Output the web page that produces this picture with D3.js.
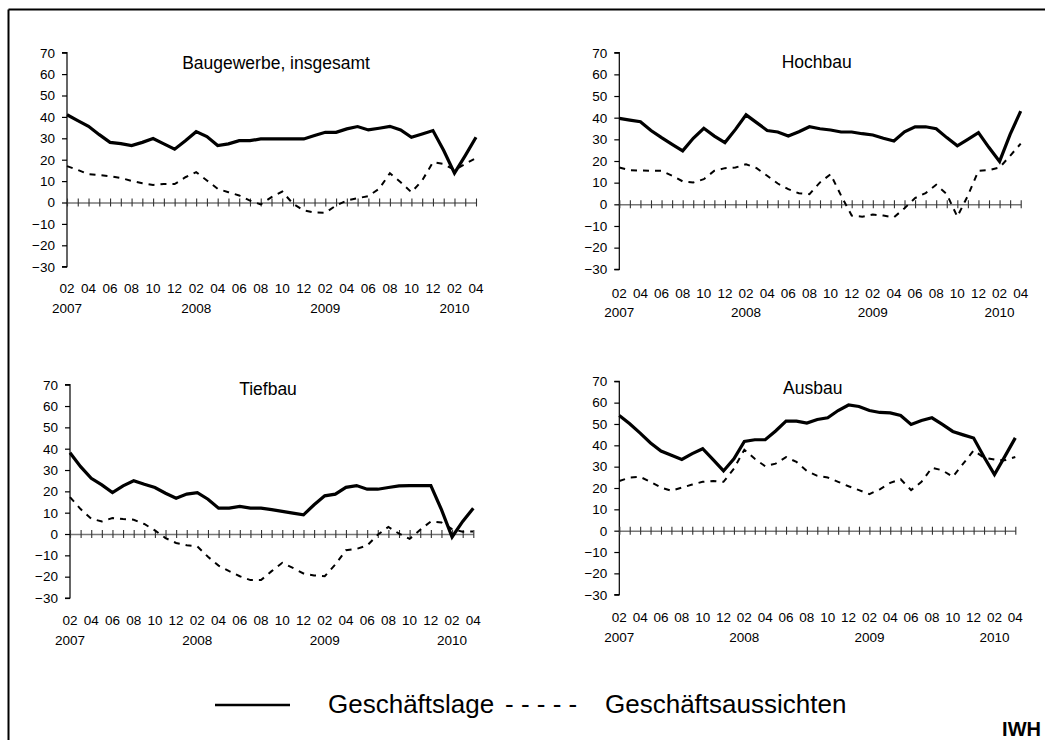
<!DOCTYPE html>
<html>
<head>
<meta charset="utf-8">
<script src="https://cdn.jsdelivr.net/npm/d3@7/dist/d3.min.js"></script>
<style>
  html, body { margin: 0; padding: 0; background: #fff; }
  svg { display: block; font-family: "Liberation Sans", Arial, sans-serif; }
</style>
</head>
<body>
<svg id="chart" width="1045" height="740"></svg>
<script>
// ---- categories (monthly, Feb 2007 .. Apr 2010) ----
const months = [
  "2007-02","2007-03","2007-04","2007-05","2007-06","2007-07","2007-08","2007-09","2007-10","2007-11","2007-12",
  "2008-01","2008-02","2008-03","2008-04","2008-05","2008-06","2008-07","2008-08","2008-09","2008-10","2008-11","2008-12",
  "2009-01","2009-02","2009-03","2009-04","2009-05","2009-06","2009-07","2009-08","2009-09","2009-10","2009-11","2009-12",
  "2010-01","2010-02","2010-03","2010-04"
];
const monthTickLabels = ["02","04","06","08","10","12","02","04","06","08","10","12","02","04","06","08","10","12","02","04"];
const yearTickLabels = ["2007","2008","2009","2010"];
const yTicks = [70,60,50,40,30,20,10,0,-10,-20,-30];
const panelTitles = ["Baugewerbe, insgesamt","Hochbau","Tiefbau","Ausbau"];
const seriesNames = ["Geschäftslage","Geschäftsaussichten"];

// ---- series values ----
const bauLage = [41,38.3,35.6,31.7,28.1,27.5,26.6,28.1,29.9,27.4,24.9,28.9,33.1,30.8,26.6,27.4,28.9,28.9,29.7,29.7,29.7,29.7,29.7,31.3,32.8,32.8,34.4,35.5,33.9,34.7,35.6,33.9,30.5,32,33.6,24.3,13.7,21.9,30.5];
const bauAus  = [17,15.2,13.2,12.8,12.3,11.5,10.1,9,8.2,8.6,8.6,11.8,14.2,10.3,6.4,4.8,3.3,0.9,-0.9,2.5,5.1,-0.6,-3.7,-4.7,-4.8,-1.4,0.9,2,3,6.4,13.7,9.5,4.8,10.3,18.8,18,15.2,18,20.8];
const hochLage = [39.7,38.9,38.1,34.1,30.8,27.7,24.7,30.5,35.1,31.5,28.5,34.6,41.3,37.7,34.1,33.4,31.5,33.5,35.8,34.9,34.3,33.4,33.4,32.6,32,30.5,29.2,33.5,35.8,35.8,34.9,30.8,27,30,33.1,26.2,19.8,32.3,43];
const hochAus  = [17,15.8,15.6,15.5,15.5,13.2,10.6,10.1,11.6,15.5,16.7,17,18.5,16.7,13.2,9.6,7,5.1,4.7,10.1,13.9,4,-5.2,-5.7,-4.7,-5.2,-6,-1.8,2.9,5.2,9,4.7,-5.7,4,15.5,15.8,17,22.4,28];
const tiefLage = [38.1,31.6,26.1,23,19.4,22.6,25,23.3,21.8,19.1,16.8,18.7,19.4,16.3,12.1,12.1,12.9,12.1,12.1,11.4,10.6,9.8,9,13.7,17.9,18.7,21.9,22.7,21,21,21.8,22.6,22.7,22.7,22.7,11.4,-1.4,5.9,12.1];
const tiefAus  = [17.3,11.7,7.2,5.9,7.5,7,6.7,4.7,1.7,-1.9,-4.2,-5.3,-5.8,-10.7,-14.8,-17.4,-19.8,-21.6,-21.6,-17.4,-13.5,-15.9,-18.5,-19.4,-19.8,-14.3,-7.6,-7,-5.4,-0.3,3.3,0.2,-2.3,2,5.9,5.4,2.3,1.1,1.2];
const ausLage = [54,50.1,45.7,41.1,37.3,35.3,33.4,36.1,38.4,33.3,28,33.7,41.8,42.6,42.6,46.7,51.3,51.3,50.4,52.1,52.9,56.3,58.9,58.2,56.3,55.4,55.2,54,49.8,51.6,52.9,49.8,46.5,44.9,43.4,34.5,26.3,34.8,43.5];
const ausAus  = [23.3,24.9,25.2,22.9,20.2,18.7,20.2,21.6,22.9,23.3,22.9,29.1,37.9,33.7,30.2,31.4,34.5,32.2,28,25.7,24.9,22.9,20.8,19,17.1,19.4,22.4,24.1,19,22.9,29.5,28.3,25.2,31.4,37.6,34.2,33.3,33,34.5];

// ---- layout ----
const panels = [
  {title: panelTitles[0], lage: bauLage,  aus: bauAus,  x0: 67,    x1: 476,    yT: 52.7,  yB: 266.7, tx: 276,   ty: 69,  ly: 293,   yy: 313},
  {title: panelTitles[1], lage: hochLage, aus: hochAus, x0: 619.3, x1: 1020.7, yT: 52.7,  yB: 269.3, tx: 816.7, ty: 68,  ly: 298,   yy: 317},
  {title: panelTitles[2], lage: tiefLage, aus: tiefAus, x0: 70,    x1: 473.3,  yT: 384.7, yB: 598,   tx: 268,   ty: 395, ly: 625,   yy: 645},
  {title: panelTitles[3], lage: ausLage,  aus: ausAus,  x0: 619.3, x1: 1015.3, yT: 381.3, yB: 594.7, tx: 812.7, ty: 394, ly: 622,   yy: 642}
];

const svg = d3.select("#chart");
svg.append("rect").attr("width",1045).attr("height",740).attr("fill","#fff");

// outer frame (top and left)
svg.append("path").attr("d","M8.5,9.5H1045M8.5,9.5V740").attr("fill","none").attr("stroke","#000").attr("stroke-width",2);

panels.forEach(p => {
  const g = svg.append("g");
  const x = d3.scalePoint().domain(months).range([p.x0, p.x1]);
  const y = d3.scaleLinear().domain([-30,70]).range([p.yB, p.yT]);

  // y axis
  const yAxis = d3.axisLeft(y).tickValues(yTicks).tickSize(5).tickPadding(7).tickFormat(d3.format("d"));
  const ya = g.append("g").attr("transform",`translate(${p.x0},0)`).call(yAxis);
  ya.select(".domain").attr("d",`M-5,${y(70)}H0V${y(-30)}H-5`).attr("stroke","#000").attr("stroke-width",1.2);
  ya.selectAll(".tick line").attr("stroke","#000").attr("stroke-width",1.2);
  ya.selectAll(".tick text").attr("font-size",13.5).attr("fill","#000").attr("font-family","Liberation Sans, Arial, sans-serif");

  // zero line with cross ticks
  const xAxis = d3.axisBottom(x).tickValues(months).tickSizeInner(8).tickSizeOuter(0).tickFormat("");
  const xa = g.append("g").attr("transform",`translate(0,${y(0)})`).call(xAxis);
  xa.select(".domain").attr("stroke","#777").attr("stroke-width",1.6);
  xa.selectAll(".tick line").attr("y1",-4).attr("y2",4).attr("stroke","#333").attr("stroke-width",1.1);

  // month labels (every second month)
  const labelMonths = months.filter((m,i) => i % 2 === 0);
  g.selectAll(".ml").data(labelMonths).enter().append("text")
    .attr("x", d => x(d)).attr("y", p.ly)
    .attr("text-anchor","middle").attr("font-size",13.5).attr("fill","#000")
    .text((d,i) => monthTickLabels[i]);

  // year labels under each February
  const febs = months.filter(m => m.endsWith("-02"));
  g.selectAll(".yl").data(febs).enter().append("text")
    .attr("x", d => x(d)).attr("y", p.yy)
    .attr("text-anchor","middle").attr("font-size",13.5).attr("fill","#000")
    .text((d,i) => yearTickLabels[i]);

  // title
  g.append("text").attr("x",p.tx).attr("y",p.ty).attr("text-anchor","middle")
    .attr("font-size",17.5).attr("fill","#000").text(p.title);

  const line = d3.line().x((d,i) => x(months[i])).y(d => y(d));
  g.append("path").datum(p.aus).attr("d",line).attr("fill","none")
    .attr("stroke","#000").attr("stroke-width",2).attr("stroke-dasharray","6,6");
  g.append("path").datum(p.lage).attr("d",line).attr("fill","none")
    .attr("stroke","#000").attr("stroke-width",3.2).attr("stroke-linejoin","miter");
});

// legend
svg.append("line").attr("x1",215).attr("x2",290).attr("y1",705).attr("y2",705)
  .attr("stroke","#000").attr("stroke-width",2.5);
svg.append("text").attr("x",328).attr("y",713).attr("font-size",26).attr("fill","#000").text(seriesNames[0]);
svg.append("text").attr("x",505).attr("y",713).attr("font-size",26).attr("fill","#000").text("- - - - -");
svg.append("text").attr("x",605).attr("y",713).attr("font-size",26).attr("fill","#000").text(seriesNames[1]);

// source mark
svg.append("text").attr("x",1041).attr("y",736).attr("text-anchor","end").attr("font-size",20).attr("font-weight","bold").attr("fill","#000").text("IWH");
</script>
</body>
</html>
